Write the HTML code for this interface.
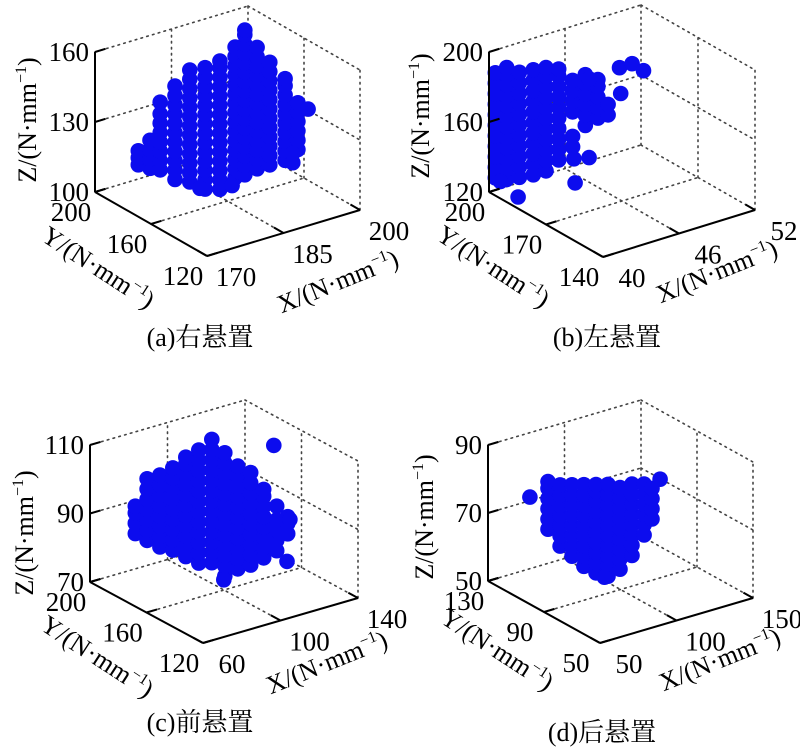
<!DOCTYPE html>
<html><head><meta charset="utf-8"><style>
html,body{margin:0;padding:0;background:#fff;}
svg{display:block;}
</style></head><body>
<svg id="fig" width="800" height="751" viewBox="0 0 800 751"></svg>
<script>
// ---------- Data: panel (a) right mount ----------
const aTicksX = [170, 185, 200];
const aTicksY = [120, 160, 200];
const aTicksZ = [100, 130, 160];
const aColX = [167.5,169.8,171.8,174.7,177.6,180.6,183.5,186.5,188.4,190.8,193.3,196.3,198.8,200.8,197.8,179.6,183.9,185.9];
const aColY = [160,160,160,160,160,160,160,160,160,160,160,160,160,160,160,160,160,160];
const aColZ = [
 [127,130,133],
 [124,128,132,136],
 [122,126,130,134,138,142,146,151],
 [116,120,124,128,132,136,140,144,148,152,156],
 [113,117,121,125,129,133,137,141,145,149,153,157,161],
 [108,112,116,120,124,128,132,136,140,144,148,152,156,160],
 [106,110,114,118,122,126,130,134,138,142,146,150,154,158,161],
 [109,113,117,121,125,129,133,137,141,145,149,153,157,161,165],
 [109,113,117,121,125,129,133,137,141,145,149,153,157,161,165,169,171],
 [110,114,118,122,126,130,134,138,142,146,150,154,158,162],
 [110,114,118,122,126,130,134,138,142,146,150,154],
 [110,114,118,122,126,130,134,138,142,145],
 [113,117,121,125,129,133],
 [129],
 [108,112],
 [109],[108],[106]
];
// ---------- Data: panel (b) left mount ----------
const bTicksX = [40, 46, 52];
const bTicksY = [140, 170, 200];
const bTicksZ = [120, 160, 200];
const bColX = [40.5,41.4,42.4,43.5,44.5,45.5,46.6,47.6,48.6,49.4,50.3,51.3,52.2,50.4,47.9,46.7,47.9,46.8,42.3,40.9];
const bColY = [200,200,200,200,200,200,200,200,200,200,200,200,200,200,200,200,200,200,200,200];
const bColZ = [
 [127,133,139,145,151,157,163,169,175,181,187],
 [124,130,136,142,148,154,160,166,172,178,184,188],
 [123,129,135,141,147,153,159,165,171,177,183],
 [122,128,134,140,146,152,158,164,170,176,182],
 [122,128,134,140,146,152,158,164,170,176,181],
 [126,132,138,144,150,156,162,168,174,178],
 [131,137,151,157,163,169],
 [141,147,153,159,165,170],
 [143,149,155,161,165],
 [143,149],
 [168],[168],[162],[153],[167],[124],[122],[110],[112],[124]
];
// ---------- Data: panel (c) front mount ----------
const cTicksX = [60, 100, 140];
const cTicksY = [120, 160, 200];
const cTicksZ = [70, 90, 110];
const cColX = [54.2,60.3,66.9,73.6,80.3,87.0,93.7,100.4,107.1,113.8,120.5,127.2,132.9,125.7,134,132.5,99.9];
const cColY = [160,160,160,160,160,160,160,160,160,160,160,160,160,160,160,160,160];
const cColZ = [
 [94,97,100,102],
 [91,94,97,100,103,106,109],
 [88,91,94,97,100,103,106,109],
 [86,89,92,95,98,101,104,107,110],
 [83,86,89,92,95,98,101,104,107,110,112],
 [80,83,86,89,92,95,98,101,104,107,110,113],
 [79,82,85,88,91,94,97,100,103,106,109,112,115],
 [74,77,80,83,86,89,92,95,98,101,104,107,110],
 [75,78,81,84,87,90,93,96,99,102,105],
 [75,78,81,84,87,90,93,96,99,102],
 [76,79,82,85,88,91,94,96],
 [77,80,83,86,90],
 [81,84,86],
 [108],[85],[73],[73]
];
// ---------- Data: panel (d) rear mount ----------
const dTicksX = [50, 100, 150];
const dTicksY = [50, 90, 130];
const dTicksZ = [50, 70, 90];
const dColX = [52.6,60.5,68.3,76.1,84.0,91.8,99.7,107.5,115.4,120.6,40.8,125.9,89.5];
const dColY = [90,90,90,90,90,90,90,90,90,90,90,90,90];
const dColZ = [
 [74,77,80,83,86,88],
 [68,71,74,77,80,83,86],
 [64,67,70,73,76,79,82,85],
 [60,63,66,69,72,75,78,81,84],
 [57,60,63,66,69,72,75,78,81,83],
 [55,58,61,64,67,70,73,76,79,82],
 [56,59,62,65,68,71,74,77,80],
 [59,62,65,68,71,74,77,80],
 [64,67,70,73,76,79],
 [68,71,74,77],
 [85],[79],[55]
];

const NS = 'http://www.w3.org/2000/svg';
const FONT = "'Liberation Serif','Noto Serif CJK SC','Noto Sans CJK SC',serif";
const svg = document.getElementById('fig');
function mk(tag, attrs, parent) {
  const e = document.createElementNS(NS, tag);
  for (const k in attrs) e.setAttribute(k, attrs[k]);
  (parent || svg).appendChild(e);
  return e;
}

const panels = [
 {id:'a', A:[95,192], B:[207,256], C:[360,210], H:140, tx:aTicksX, ty:aTicksY, tz:aTicksZ, cx:aColX, cy:aColY, cz:aColZ,
  zt:[28,120], yt:[98,268], xt:[338,282], cap:[200,337], capText:'(a)右悬置'},
 {id:'b', A:[489,192], B:[603,257], C:[755,210], H:140, tx:bTicksX, ty:bTicksY, tz:bTicksZ, cx:bColX, cy:bColY, cz:bColZ,
  zt:[421,116], yt:[493,267], xt:[717,272], cap:[607,337], capText:'(b)左悬置'},
 {id:'c', A:[90,582], B:[203,643], C:[358,598], H:137, tx:cTicksX, ty:cTicksY, tz:cTicksZ, cx:cColX, cy:cColY, cz:cColZ,
  zt:[25,533], yt:[97,657], xt:[327,663], cap:[200,722], capText:'(c)前悬置'},
 {id:'d', A:[488,581], B:[600,643], C:[753,598], H:136, tx:dTicksX, ty:dTicksY, tz:dTicksZ, cx:dColX, cy:dColY, cz:dColZ,
  zt:[425,517], yt:[497,650], xt:[720,660], cap:[602,732], capText:'(d)后悬置'}
];

panels.forEach(p => {
  const g = mk('g', {});
  
  
  const x0 = p.tx[0], x1 = p.tx[p.tx.length-1];
  const y0 = p.ty[0], y1 = p.ty[p.ty.length-1];
  const z0 = p.tz[0], z1 = p.tz[p.tz.length-1];
  function P(x, y, z) {
    const xn = (x - x0) / (x1 - x0), yn = (y - y0) / (y1 - y0), zn = (z - z0) / (z1 - z0);
    return [p.B[0] + xn*(p.C[0]-p.B[0]) + yn*(p.A[0]-p.B[0]),
            p.B[1] + xn*(p.C[1]-p.B[1]) + yn*(p.A[1]-p.B[1]) - zn*p.H];
  }
  function line(a, b, dotted, name) {
    const l = mk('line', {x1:a[0], y1:a[1], x2:b[0], y2:b[1], stroke: dotted ? '#444' : '#000',
      'stroke-width': dotted ? 1.6 : 2, 'stroke-dasharray': dotted ? '1.6 4.4' : 'none', 'stroke-linecap': dotted ? 'round' : 'butt'}, g);
    
    
  }
  line(P(x0,y1,z1), P(x1,y1,z1), true, 'box-top-back-edge');
  line(P(x1,y1,z1), P(x1,y0,z1), true, 'box-top-right-edge');
  line(P(x1,y1,z0), P(x1,y1,z1), true, 'box-back-vertical-edge');
  line(P(x1,y0,z0), P(x1,y0,z1), true, 'box-right-vertical-edge');
  line(P(x0,y1,z0), P(x1,y1,z0), true, 'box-floor-back-edge');
  line(P(x1,y1,z0), P(x1,y0,z0), true, 'box-floor-right-edge');
  p.tz.slice(1, -1).forEach(z => {
    line(P(x0,y1,z), P(x1,y1,z), true, 'z-grid-line');
    line(P(x1,y1,z), P(x1,y0,z), true, 'z-grid-line');
  });
  p.tx.slice(1, -1).forEach(x => {
    line(P(x,y0,z0), P(x,y1,z0), true, 'x-grid-line');
    line(P(x,y1,z0), P(x,y1,z1), true, 'x-grid-line');
  });
  p.ty.slice(1, -1).forEach(y => {
    line(P(x0,y,z0), P(x1,y,z0), true, 'y-grid-line');
    line(P(x1,y,z0), P(x1,y,z1), true, 'y-grid-line');
  });
  for (let i = 0; i < p.cx.length; i++) {
    p.cz[i].forEach(z => {
      const q = P(p.cx[i], p.cy[i], z);
      const c = mk('circle', {cx:q[0].toFixed(1), cy:q[1].toFixed(1), r:7.8, fill:'#0c0cee'}, g);
      
      
    });
  }
  line(P(x0,y1,z0), P(x0,y1,z1), false, 'z-axis');
  line(P(x0,y1,z0), P(x0,y0,z0), false, 'y-axis');
  line(P(x0,y0,z0), P(x1,y0,z0), false, 'x-axis');
  function tick(a, b, name) {
    const dx = b[0]-a[0], dy = b[1]-a[1], L = Math.hypot(dx, dy);
    line(a, [a[0] + dx/L*11, a[1] + dy/L*11], false, name);
  }
  p.tz.forEach(z => tick(P(x0,y1,z), P(x1,y1,z), 'z-tick'));
  p.tx.forEach(x => tick(P(x,y0,z0), P(x,y1,z0), 'x-tick'));
  p.ty.forEach(y => tick(P(x0,y,z0), P(x1,y,z0), 'y-tick'));
  function txt(s, x, y, anchor, name) {
    const t = mk('text', {x:x, y:y, 'text-anchor':anchor, fill:'#000',
      style:'font-size:27px;font-family:' + FONT}, g);
    t.textContent = s;
    
    
  }
  p.tz.forEach(z => { const q = P(x0,y1,z); txt(String(z), q[0]-6, q[1]+9, 'end', 'z-tick-label'); });
  p.ty.forEach(y => { const q = P(x0,y,z0); txt(String(y), q[0]-24, q[1]+29, 'middle', 'y-tick-label'); });
  p.tx.forEach(x => { const q = P(x,y0,z0); txt(String(x), q[0]+29, q[1]+30, 'middle', 'x-tick-label'); });
  function title(letter, pos, rot, name) {
    const t = mk('text', {x:0, y:8, 'text-anchor':'middle', fill:'#000',
      style:'font-size:26px;font-family:' + FONT,
      transform:'translate(' + pos[0] + ',' + pos[1] + ') rotate(' + rot + ')'}, g);
    
    
    const t1 = mk('tspan', {}, t); t1.textContent = letter + '/(N·mm';
    const t2 = mk('tspan', {style:'font-size:16px', dy:-10}, t); t2.textContent = '−1';
    const t3 = mk('tspan', {dy:10}, t); t3.textContent = ')';
  }
  title('Z', p.zt, -90, 'z-axis-title');
  title('Y', p.yt, 33, 'y-axis-title');
  title('X', p.xt, -22, 'x-axis-title');
  const cap = mk('text', {x:p.cap[0], y:p.cap[1]+9, 'text-anchor':'middle', fill:'#000',
    style:'font-size:26px;font-family:' + FONT}, g);
  cap.textContent = p.capText;
  
  
});
</script>
</body></html>
